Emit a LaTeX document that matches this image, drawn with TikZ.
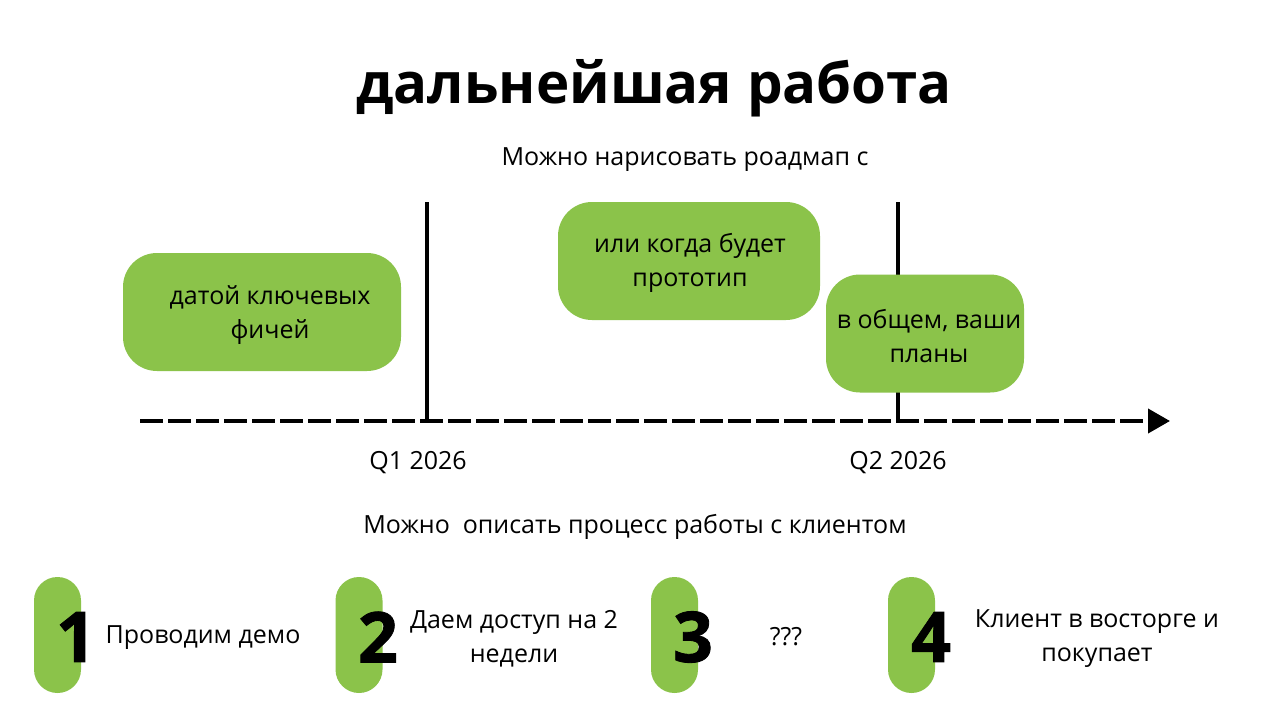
\documentclass[tikz,border=0pt]{standalone}
\usepackage{fontspec}
\setmainfont{Open Sans}
\newfontfamily\heavyfont{Open Sans}[BoldFeatures={FakeBold=1.2}]
\usetikzlibrary{arrows.meta,positioning}

\tikzset{
  plan/.style={fill=cgreen,rounded corners=34pt,minimum height=118pt,
    inner sep=0pt},
  pill/.style={fill=cgreen,rounded corners=23.5pt,minimum width=47pt,
    minimum height=116pt,inner sep=0pt},
  num/.style={inner sep=0pt,font=\fontsize{70}{70}\heavyfont\bfseries},
  txt/.style={align=center,inner sep=0pt,font=\fontsize{25}{34}\selectfont},
  tick/.style={line width=4pt},
  axis/.style={line width=4pt,dash pattern=on 23pt off 5pt,
    -{Triangle[length=22pt,width=24pt]}},
}

\begin{document}
\begin{tikzpicture}[x=1pt,y=-1pt]
%
\useasboundingbox[fill=white] (0,0) rectangle (1280,720);
%
\definecolor{cgreen}{rgb}{0.545,0.765,0.290}
%
\node[anchor=base,inner sep=0pt,font=\fontsize{56.4}{56.4}\selectfont\bfseries] (title) at (654,103) {дальнейшая работа};
\node[txt,anchor=base] (road) at (685,165) {Можно нарисовать роадмап с};
%
\coordinate (q1top) at (427,202);
\coordinate (q1bot) at (427,421);
\coordinate (q2top) at (898,202);
\coordinate (q2bot) at (898,421);
\coordinate (axs) at (140,421);
\coordinate (axe) at (1170,421);
%
\draw[tick] (q1top) -- (q1bot);
\draw[tick] (q2top) -- (q2bot);
\draw[axis] (axs) -- (axe);
%
\node[plan,minimum width=278pt] (feat) at (262,312) {};
\node[plan,minimum width=262pt] (proto) at (689,261) {};
\node[plan,minimum width=198pt] (plans) at (925,333.5) {};
%
\node[txt] (featt) at ([xshift=8pt,yshift=-3pt]feat.center) {датой ключевых\\фичей};
\node[txt] (protot) at ([xshift=1pt,yshift=-2pt]proto.center) {или когда будет\\прототип};
\node[txt] (planst) at ([xshift=4pt,yshift=-3pt]plans.center) {в общем, ваши\\планы};
%
\node[txt,anchor=base] (q1) at (418,469) {Q1 2026};
\node[txt,anchor=base] (q2) at (898,469) {Q2 2026};
%
\node[txt,anchor=base] (proc) at (635,533) {Можно\ \ описать процесс работы с клиентом};
%
\node[pill] (p1) at (57.5,635) {};
\node[pill] (p2) at (359,635) {};
\node[pill] (p3) at (674.5,635) {};
\node[pill] (p4) at (911.5,635) {};
%
\node[num] (n1) at (76,637) {1};
\node[num] (n2) at (378,637) {2};
\node[num] (n3) at (693,637) {3};
\node[num] (n4) at (931,637) {4};
%
\node[txt] (s1) at (203,638) {Проводим демо};
\node[txt] (s2) at (514,639) {Даем доступ на 2\\недели};
\node[txt] (s3) at (786,637) {???};
\node[txt] (s4) at (1097,639) {Клиент в восторге и\\покупает};
%
\end{tikzpicture}
\end{document}
